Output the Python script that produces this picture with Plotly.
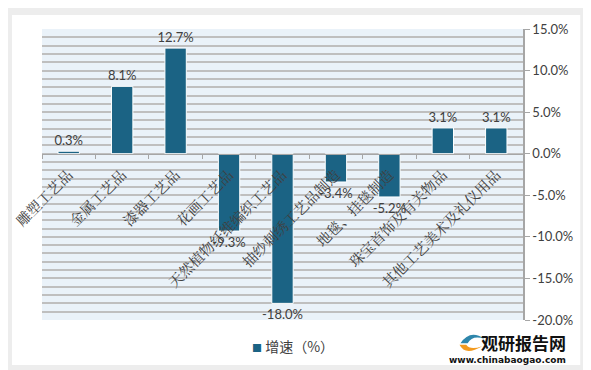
import plotly.graph_objects as go

categories = ["雕塑工艺品", "金属工艺品", "漆器工艺品", "花画工艺品", "天然植物纤维编织工艺品",
              "抽纱刺绣工艺品制造", "地毯、挂毯制造", "珠宝首饰及有关物品", "其他工艺美术及礼仪用品"]
growth = [0.3, 8.1, 12.7, -9.3, -18.0, -3.4, -5.2, 3.1, 3.1]
y_ticks = [15, 10, 5, 0, -5, -10, -15, -20]
y_tick_text = ["15.0%", "10.0%", "5.0%", "0.0%", "-5.0%", "-10.0%", "-15.0%", "-20.0%"]
series_name = "增速（%）"

YMIN, YMAX = -20, 15
BAR = "#1B6384"
FONT = "Lato, 'Noto Sans CJK SC', sans-serif"
CJK = "'Noto Serif CJK SC', 'Noto Sans CJK SC', sans-serif"

fig = go.Figure()
fig.add_trace(go.Bar(
    x=categories, y=growth, name=series_name,
    marker=dict(color=BAR, line=dict(color="white", width=1)),
    width=0.4,
    text=[f"{v:.1f}%" for v in growth], textposition="outside",
    constraintext="none",
    textfont=dict(family=FONT, size=13, color="#404040"),
    cliponaxis=False, showlegend=False,
))

zero_frac = (0 - YMIN) / (YMAX - YMIN)

# the page body has an 8px margin, so the figure is sized to fit the 591x370 window
fig.update_layout(
    width=583, height=362,
    margin=dict(l=34, r=68, t=21, b=50),
    paper_bgcolor="#EDEDED",
    plot_bgcolor="#EAF2F9",
    font=dict(family=FONT, size=12, color="#404040"),
    showlegend=False,
    xaxis=dict(
        type="category", anchor="free", position=zero_frac,
        showline=True, linecolor="#A6A6A6", linewidth=1,
        ticks="outside", ticklen=4, tickcolor="#A6A6A6", tickson="boundaries",
        tickangle=-45, ticklabelstandoff=6,
        tickfont=dict(family=CJK, size=14.5, color="#404040"),
        showgrid=False, automargin=False,
    ),
    yaxis=dict(
        range=[YMIN, YMAX], side="right", tickvals=y_ticks, ticktext=y_tick_text,
        showline=True, linecolor="#A6A6A6", linewidth=1.5,
        ticks="outside", ticklen=5, tickcolor="#A6A6A6",
        showgrid=True, gridcolor="#BFBFBF", gridwidth=1.5,
        zeroline=False,
        minor=dict(dtick=1, showgrid=True, gridcolor="#BFBFBF", gridwidth=1.5, ticks=""),
        tickfont=dict(family=FONT, size=13, color="#404040"),
        automargin=False,
    ),
    shapes=[
        dict(type="rect", xref="paper", yref="paper", x0=-0.0624, x1=1.119,
             y0=-0.155, y1=1.048, fillcolor="white", line=dict(width=0), layer="below"),
        dict(type="rect", xref="paper", yref="paper", x0=0, x1=1, y0=0, y1=1,
             fillcolor="#EAF2F9", line=dict(width=0), layer="below"),
        # legend box
        dict(type="rect", xref="paper", yref="paper", x0=0.433, x1=0.613,
             y0=-0.131, y1=-0.045, fillcolor="white", line=dict(width=0)),
        # logo icon
        dict(type="path", xref="paper", yref="paper",
             path="M 0.87,-0.08 Q 0.89,-0.03 0.92,-0.065 Q 0.895,-0.05 0.885,-0.08 Z",
             fillcolor="#2E86AB", line=dict(width=0)),
        dict(type="path", xref="paper", yref="paper",
             path="M 0.868,-0.085 Q 0.88,-0.125 0.915,-0.09 Q 0.89,-0.105 0.882,-0.085 Z",
             fillcolor="#F39A1E", line=dict(width=0)),
    ],
    annotations=[
        dict(xref="paper", yref="paper", x=0.522, y=-0.089, xanchor="center", yanchor="middle",
             text=f"<span style='color:{BAR};font-size:10px'>■</span> {series_name}",
             showarrow=False, font=dict(family="'Noto Sans CJK SC'", size=14, color="#404040")),
        dict(xref="paper", yref="paper", x=1.094, y=-0.079, xanchor="right", yanchor="middle",
             text="<b>观研报告网</b>", showarrow=False,
             font=dict(family="'Noto Sans CJK SC'", size=17, color="#111111")),
        dict(xref="paper", yref="paper", x=1.094, y=-0.136, xanchor="right", yanchor="middle",
             text="<b>www.chinabaogao.com</b>", showarrow=False,
             font=dict(family="'DejaVu Sans'", size=9, color="#111111")),
    ],
)

fig.write_html("out.html")
